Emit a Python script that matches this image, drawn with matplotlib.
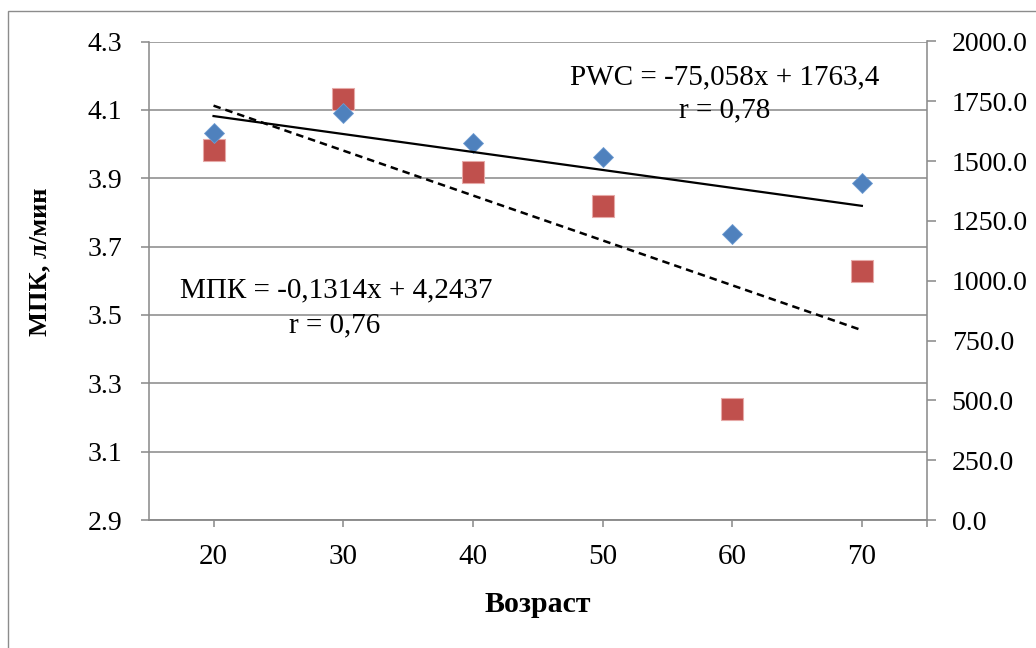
import matplotlib
matplotlib.use("Agg")
import matplotlib.pyplot as plt
from matplotlib.patches import Rectangle
import numpy as np

plt.rcParams['font.family'] = ['Liberation Serif', 'DejaVu Serif']

ages = [20, 30, 40, 50, 60, 70]
mpk = [3.984, 4.132, 3.919, 3.820, 3.224, 3.629]        # left axis, л/мин
pwc = [1616, 1700, 1577, 1519, 1194, 1409]              # right axis
mpk_trend = (-0.1314, 4.2437)
pwc_trend = (-75.058, 1763.4)
left_ticks = [2.9, 3.1, 3.3, 3.5, 3.7, 3.9, 4.1, 4.3]
right_ticks = [0, 250, 500, 750, 1000, 1250, 1500, 1750, 2000]

W, H = 1036, 648
fig = plt.figure(figsize=(W / 100, H / 100), dpi=100)
ax = fig.add_axes([148.7 / W, 1 - 520 / H, (926.7 - 148.7) / W, (520 - 41.5) / H])
ax2 = ax.twinx()

grey = '#8c8c8c'
blue = '#4F81BD'
red = '#C0504D'
lw = 1.15

# outer chart border
fig.patches.append(Rectangle((8 / W, -0.05), 1.2, 1 - 11 / H + 0.05, transform=fig.transFigure,
                             fill=False, edgecolor=grey, linewidth=1.0, zorder=0))

ax.set_xlim(15, 75)
ax.set_ylim(2.9, 4.3)
ax2.set_ylim(0, 2000)
ax.set_xticks(ages + [75])
ax.set_xticklabels([str(a) for a in ages] + [''])
ax.set_yticks(left_ticks)
ax.set_yticklabels([f'{v:.1f}' for v in left_ticks])
ax2.set_yticks(right_ticks)
ax2.set_yticklabels([f'{v:.1f}' for v in right_ticks])

ax.grid(axis='y', color=grey, linewidth=lw)
ax.set_axisbelow(True)
for a in (ax, ax2):
    for s in a.spines.values():
        s.set_color(grey)
        s.set_linewidth(lw)
    a.spines['top'].set_visible(False)
ax.spines['right'].set_visible(False)
ax2.spines['left'].set_visible(False)

ax.tick_params(axis='y', length=5.8, width=lw, color=grey, labelsize=20, pad=13)
ax.tick_params(axis='x', length=5, width=lw, color=grey, labelsize=21, pad=12)
ax2.tick_params(axis='y', length=6.5, width=lw, color=grey, labelsize=20, pad=11.5)

# МПК series (left axis)
ax.plot(ages, mpk, linestyle='none', marker='s', markersize=16.5, color=red,
        markeredgecolor='#e6a9a7', markeredgewidth=0.8, zorder=3)
idx = np.arange(1, len(ages) + 1)
ax.plot(ages, mpk_trend[0] * idx + mpk_trend[1], color='black', linestyle=(0, (3, 2)),
        linewidth=1.8, zorder=4)

# PWC series (right axis)
ax2.plot(ages, pwc, linestyle='none', marker='D', markersize=10.5, color=blue,
         markeredgecolor='#6d9bd1', markeredgewidth=0.6, zorder=3)
ax2.plot(ages, pwc_trend[0] * idx + pwc_trend[1], color='black', linestyle='-',
         linewidth=1.6, zorder=4)

fs = 21
fig.text(570 / W, 1 - 77 / H, 'PWC = -75,058x + 1763,4', fontsize=fs, ha='left', va='center')
fig.text(725 / W, 1 - 110 / H, 'r = 0,78', fontsize=fs, ha='center', va='center')
fig.text(180 / W, 1 - 290 / H, 'МПК = -0,1314x + 4,2437', fontsize=fs, ha='left', va='center')
fig.text(335 / W, 1 - 325 / H, 'r = 0,76', fontsize=fs, ha='center', va='center')

fig.text(40 / W, 1 - 262 / H, 'МПК, л/мин', fontsize=19, fontweight='bold', rotation=90,
         ha='center', va='center')
fig.text(538 / W, 1 - 605 / H, 'Возраст', fontsize=21.5, fontweight='bold', ha='center', va='center')

fig.savefig('out.png', dpi=100)
